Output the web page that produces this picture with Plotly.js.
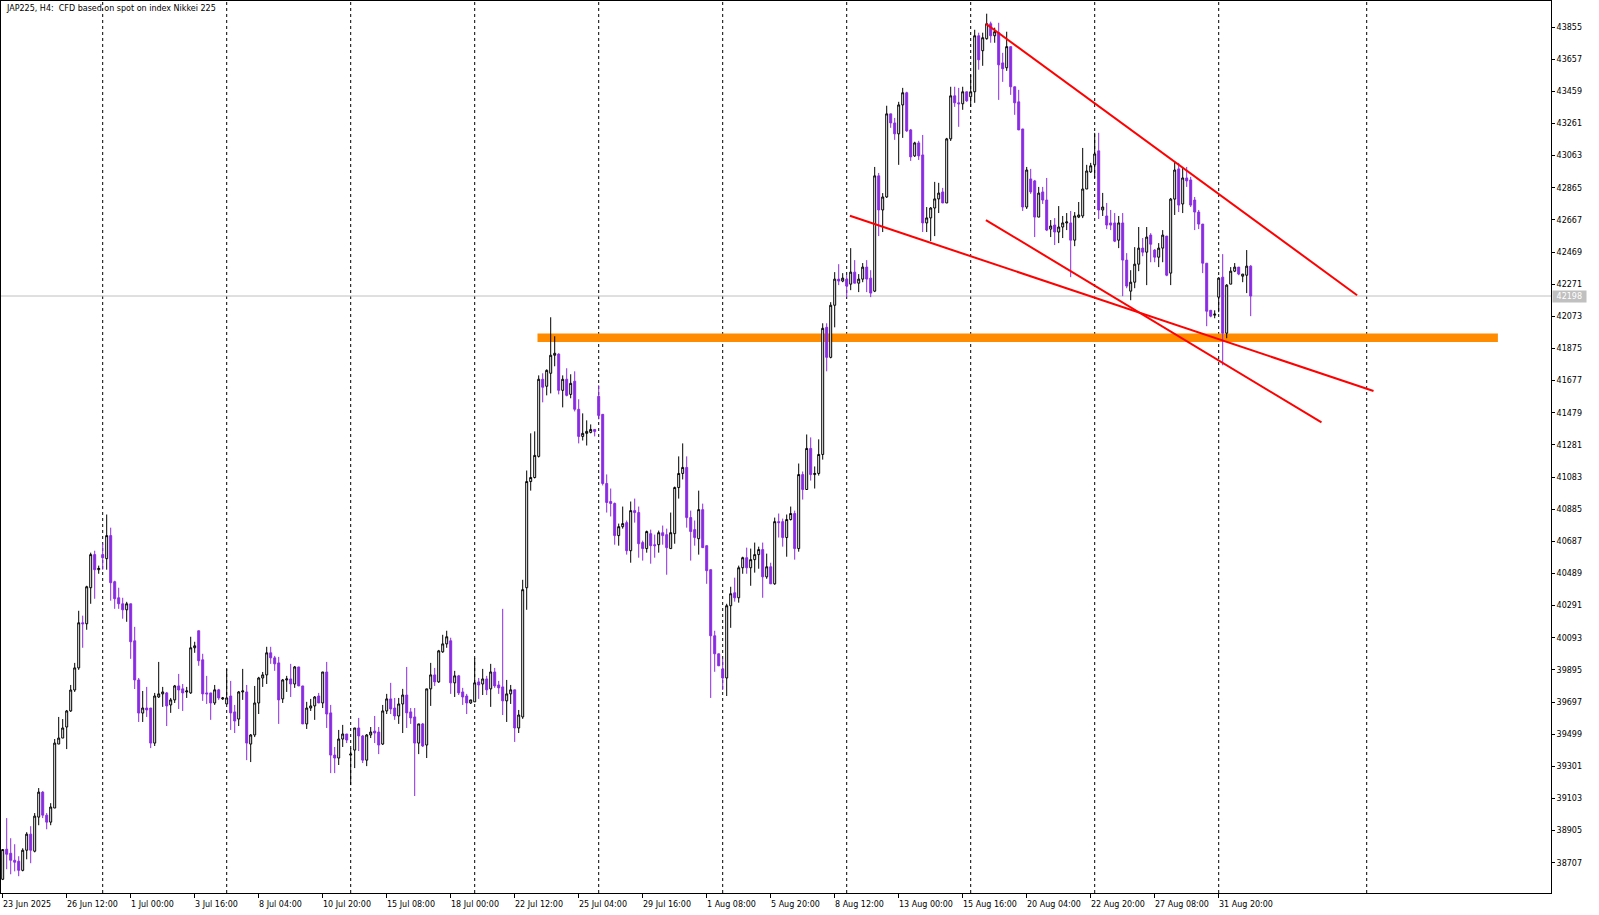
<!DOCTYPE html>
<html><head><meta charset="utf-8">
<script src="https://cdn.plot.ly/plotly-3.0.1.min.js"></script>
<style>html,body{margin:0;padding:0;background:#fff;overflow:hidden}#chart{width:1599px;height:915px}</style>
</head><body><div id="chart"></div>
<script>
// ---- DATA: JAP225 H4 candles ----
const openP = [
38605,38790,38765,38722,38716,38660,38784,38883,38778,38988,
39142,39000,38957,39044,39438,39475,39543,39642,39771,39907,
40185,40179,40401,40605,40512,40605,40580,40722,40438,40339,
40302,40265,40302,40074,39833,39629,39660,39660,39444,39728,
39747,39753,39679,39710,39796,39778,39759,39753,40031,40136,
39957,39753,39753,39691,39772,39716,39685,39734,39636,39592,
39759,39759,39438,39494,39691,39845,39864,40000,39969,39938,
39716,39833,39839,39808,39913,39796,39562,39660,39673,39734,
39691,39882,39630,39370,39352,39469,39500,39370,39401,39537,
39488,39339,39494,39518,39512,39438,39642,39716,39660,39611,
39685,39740,39636,39605,39444,39562,39432,39778,39864,39821,
40006,40055,40074,39815,39858,39759,39734,39691,39698,39821,
39808,39839,39778,39882,39802,39790,39704,39747,39772,39537,
39605,40401,41055,41080,41210,41685,41642,41722,41833,41840,
41617,41685,41592,41673,41500,41333,41352,41358,41376,41580,
41469,41043,40932,40920,40722,40777,40802,40629,40876,40864,
40679,40642,40734,40666,40666,40740,40728,40642,40734,41018,
41105,41142,40833,40759,40703,40882,40660,40512,40105,39994,
39901,39845,40290,40370,40339,40524,40586,40524,40574,40605,
40636,40468,40530,40425,40808,40808,40710,40821,40858,40642,
41098,41006,41259,41098,41105,41222,42005,41820,42141,42302,
42290,42302,42271,42345,42277,42302,42376,42308,42228,42938,
42728,42808,43320,43264,43197,43375,43450,43221,43061,43141,
43067,42648,42679,42740,42796,42839,42771,43166,43431,43388,
43382,43456,43425,43456,43801,43709,43783,43875,43801,43820,
43634,43604,43734,43487,43394,43227,42746,42919,42907,42684,
42839,42789,42610,42635,42592,42623,42648,42648,42542,42684,
42691,42857,42962,43006,43092,42728,42691,42648,42648,42542,
42648,42419,42228,42283,42394,42493,42468,42573,42481,42437,
42493,42567,42339,42795,42981,42765,42925,42913,42789,42715,
42641,42400,42110,42080,42191,42314,41969,42271,42351,42376,
42320,42326,42382];
const highP = [
38790,38982,38858,38821,38747,38796,38895,38932,39013,39167,
39148,39013,39074,39469,39605,39592,39648,39802,39938,40259,
40229,40413,40617,40629,40537,40673,40852,40771,40444,40401,
40339,40314,40302,40160,39845,39765,39790,39660,39753,39944,
39790,39759,39722,39802,39870,39808,39790,40099,40068,40136,
39994,39858,39753,39802,39778,39728,39901,39827,39679,39765,
39901,39802,39500,39796,39852,39882,40037,40037,39981,39975,
39839,39858,39932,39919,39913,39796,39698,39716,39734,39753,
39882,39944,39679,39420,39525,39556,39500,39413,39537,39599,
39494,39500,39543,39611,39543,39679,39747,39815,39722,39722,
39778,39913,39660,39660,39562,39568,39778,39938,39907,40018,
40111,40136,40093,39889,39864,39784,39747,39710,39969,39845,
39901,39858,39932,39907,39827,40271,39833,39802,39772,39648,
40450,41123,41352,41364,41709,41722,41746,42067,41950,41845,
41709,41753,41716,41734,41562,41475,41432,41407,41376,41648,
41469,41099,41012,40926,40796,40901,40815,40932,40950,40901,
40691,40753,40759,40728,40753,40784,40765,40864,41024,41210,
41290,41210,40876,40815,40999,40919,40660,40512,40136,39994,
39963,40302,40407,40463,40537,40592,40648,40642,40679,40654,
40679,40611,40555,40833,40858,40827,40852,40901,40876,41166,
41117,41345,41327,41148,41315,42030,42030,42160,42345,42394,
42339,42327,42493,42419,42333,42401,42419,42357,42993,42956,
42832,43370,43320,43295,43394,43480,43456,43227,43148,43154,
43190,42746,42746,42901,42895,42864,43172,43487,43487,43480,
43487,43456,43561,43838,43820,43820,43937,43888,43851,43881,
43696,43826,43734,43487,43468,43227,42993,42981,42913,42870,
42870,42925,42666,42678,42752,42691,42709,42722,42715,42777,
43110,43006,43018,43203,43203,42833,42771,42728,42709,42691,
42709,42462,42357,42499,42623,42555,42623,42585,42487,42524,
42604,42567,42802,43024,43018,42987,42993,42932,42808,42728,
42641,42400,42110,42110,42314,42456,42271,42376,42401,42376,
42333,42481,42388];
const lowP = [
38600,38667,38636,38654,38624,38654,38728,38704,38771,38938,
38982,38913,38938,39044,39438,39475,39407,39636,39759,39895,
40031,40142,40302,40333,40487,40512,40512,40321,40271,40271,
40210,40191,39963,39777,39574,39574,39605,39413,39426,39722,
39667,39549,39630,39691,39654,39642,39722,39747,40000,39920,
39704,39685,39587,39679,39710,39710,39685,39525,39506,39549,
39710,39339,39327,39481,39623,39790,39808,39932,39889,39562,
39691,39759,39728,39784,39796,39562,39531,39642,39587,39691,
39660,39537,39259,39259,39309,39420,39444,39185,39290,39395,
39321,39302,39475,39444,39376,39432,39623,39623,39587,39562,
39506,39537,39562,39118,39376,39420,39352,39673,39796,39815,
40000,40031,39747,39728,39740,39679,39623,39685,39698,39716,
39740,39740,39667,39784,39747,39617,39574,39685,39451,39506,
39593,40265,40999,41074,41203,41543,41586,41598,41765,41592,
41512,41580,41568,41487,41290,41308,41277,41352,41333,41438,
41031,40864,40840,40666,40660,40765,40605,40555,40802,40586,
40568,40617,40549,40586,40617,40666,40481,40642,40672,40950,
41068,40771,40568,40660,40605,40648,40425,39722,39883,39920,
39771,39734,40154,40315,40309,40487,40487,40413,40494,40518,
40339,40456,40425,40419,40710,40654,40592,40815,40574,40623,
40944,41006,41061,41012,41092,41190,41734,41814,42005,42265,
42283,42191,42234,42277,42222,42283,42222,42191,42222,42567,
42592,42802,43234,43160,43006,43172,43209,43030,43055,43036,
42592,42592,42536,42567,42709,42771,42771,43153,43363,43240,
43345,43394,43363,43388,43592,43616,43777,43758,43758,43406,
43517,43585,43437,43314,43221,42722,42734,42827,42561,42684,
42765,42598,42561,42512,42524,42555,42604,42314,42505,42678,
42678,42857,42956,42925,42672,42691,42610,42604,42530,42493,
42197,42246,42172,42246,42351,42443,42265,42406,42406,42376,
42406,42320,42265,42697,42715,42709,42870,42746,42604,42610,
42339,42012,42067,42061,42098,41771,41938,42271,42345,42326,
42283,42216,42074];
const closeP = [
38788,38759,38722,38710,38660,38784,38883,38784,38994,39142,
39000,38957,39050,39444,39475,39537,39642,39771,39907,40185,
40179,40407,40605,40512,40520,40586,40722,40432,40333,40302,
40265,40302,40068,39833,39629,39660,39648,39444,39734,39747,
39759,39673,39710,39796,39771,39753,39765,40031,40043,39951,
39747,39747,39691,39772,39722,39722,39722,39630,39580,39759,
39765,39444,39494,39691,39845,39864,40000,39969,39932,39710,
39833,39839,39808,39913,39796,39562,39660,39673,39728,39691,
39882,39623,39370,39352,39469,39500,39463,39376,39537,39488,
39339,39494,39512,39506,39432,39642,39716,39654,39611,39685,
39740,39630,39599,39444,39562,39426,39778,39864,39821,40012,
40055,40099,39815,39858,39753,39728,39691,39710,39815,39802,
39839,39772,39882,39796,39784,39704,39747,39772,39537,39617,
40389,41055,41080,41216,41685,41636,41740,41833,41845,41617,
41685,41586,41660,41500,41333,41352,41364,41376,41364,41462,
41043,40926,40920,40722,40777,40796,40629,40876,40864,40672,
40642,40747,40660,40660,40740,40722,40648,40740,41018,41105,
41142,40833,40747,40710,40882,40648,40506,40105,39994,39920,
39845,40290,40364,40339,40524,40586,40524,40574,40605,40636,
40468,40530,40425,40808,40802,40710,40821,40858,40642,41098,
41006,41259,41098,41105,41222,41999,41820,42141,42302,42290,
42308,42259,42345,42277,42302,42376,42302,42216,42938,42728,
42808,43320,43264,43197,43375,43450,43215,43055,43141,43061,
42648,42679,42740,42796,42832,42771,43166,43431,43388,43382,
43456,43400,43456,43801,43653,43789,43875,43801,43826,43622,
43598,43734,43487,43388,43221,42746,42974,42839,42684,42832,
42789,42604,42629,42592,42623,42648,42654,42542,42691,42697,
42857,42968,43000,43073,42728,42746,42635,42635,42536,42648,
42419,42259,42283,42394,42493,42468,42561,42517,42437,42493,
42573,42326,42795,42974,42758,42925,42907,42758,42715,42641,
42400,42104,42074,42086,42308,41969,42265,42351,42376,42333,
42333,42382,42198];

const priceTicks = [43855,43657,43459,43261,43063,42865,42667,42469,42271,42073,41875,41677,41479,41281,41083,40885,40687,40489,40291,40093,39895,39697,39499,39301,39103,38905,38707];
const timeLabels = ['23 Jun 2025','26 Jun 12:00','1 Jul 00:00','3 Jul 16:00','8 Jul 04:00','10 Jul 20:00','15 Jul 08:00','18 Jul 00:00','22 Jul 12:00','25 Jul 04:00','29 Jul 16:00','1 Aug 08:00','5 Aug 20:00','8 Aug 12:00','13 Aug 00:00','15 Aug 16:00','20 Aug 04:00','22 Aug 20:00','27 Aug 08:00','31 Aug 20:00'];
const timeLabelBar = [0,16,32,48,64,80,96,112,128,144,160,176,192,208,224,240,256,272,288,304];
const weekStartBar = [25,56,87,118,149,180,211,242,273,304,341];
const bidPrice = 42198;
// support zone (orange)
const zoneBars = [133.7, 373.8];
const zonePrices = [41914, 41967];
// red trend lines: start bar/price, end bar/price
const trendStartBar = [245.8, 211.8, 245.8];
const trendStartPrice = [43875, 42692, 42666];
const trendEndBar = [338.6, 342.7, 329.7];
const trendEndPrice = [42203, 41613, 41419];

// ---- CHART ----
const barIdx = openP.map((_, i) => i);
const FONT = 'DejaVu Sans, Tahoma, sans-serif';

const trace = {
  type: 'candlestick', x: barIdx, open: openP, high: highP, low: lowP, close: closeP,
  increasing: {line: {color: '#000000', width: 1}, fillcolor: '#FFFFFF'},
  decreasing: {line: {color: '#8A2BE2', width: 1}, fillcolor: '#8A2BE2'},
  whiskerwidth: 0, hoverinfo: 'skip', showlegend: false
};

const shapes = [];
weekStartBar.forEach(b => shapes.push({type:'line', xref:'x', yref:'paper', x0:b, x1:b, y0:0, y1:1,
  line:{color:'#000000', width:1, dash:'3px,3px'}, layer:'below'}));
shapes.push({type:'line', xref:'paper', yref:'y', x0:0, x1:1, y0:bidPrice, y1:bidPrice,
  line:{color:'#C0C0C0', width:1}, layer:'below'});
shapes.push({type:'rect', xref:'x', yref:'y', x0:zoneBars[0], x1:zoneBars[1], y0:zonePrices[0], y1:zonePrices[1],
  fillcolor:'#FF8C00', line:{width:0}, layer:'below'});
trendStartBar.forEach((b, i) => shapes.push({type:'line', xref:'x', yref:'y', x0:b, y0:trendStartPrice[i], x1:trendEndBar[i], y1:trendEndPrice[i],
  line:{color:'#FF0000', width:2}, layer:'above'}));

const annotations = [];
timeLabels.forEach((t, i) => annotations.push({xref:'x', yref:'paper', x:timeLabelBar[i], y:0, xanchor:'left', yanchor:'top',
  yshift:-5, xshift:-2, text:t, showarrow:false, font:{family:FONT, size:8, color:'#000000'}}));
annotations.push({xref:'paper', yref:'paper', x:0, y:1, xanchor:'left', yanchor:'top', xshift:3, yshift:-1,
  text:'JAP225, H4:\u00a0 CFD based on spot on index Nikkei 225', showarrow:false, font:{family:FONT, size:8, color:'#000000'}});
annotations.push({xref:'paper', yref:'y', x:1, y:bidPrice, xanchor:'left', yanchor:'middle', xshift:1,
  text:'\u00a0' + String(bidPrice) + '\u00a0', showarrow:false, bgcolor:'#C0C0C0', borderpad:1, font:{family:FONT, size:8, color:'#FFFFFF'}});

const layout = {
  width:1599, height:915,
  margin:{l:1, r:48, t:1, b:22},
  paper_bgcolor:'#FFFFFF', plot_bgcolor:'#FFFFFF',
  showlegend:false, hovermode:false, dragmode:false,
  xaxis:{type:'linear', range:[-0.425, 387.075], showgrid:false, zeroline:false,
    showline:true, mirror:true, linecolor:'#000000', linewidth:1,
    ticks:'outside', ticklen:4, tickcolor:'#000000', tickvals:timeLabelBar, showticklabels:false,
    rangeslider:{visible:false}, fixedrange:true},
  yaxis:{side:'right', range:[38520.5, 44015.2], showgrid:false, zeroline:false,
    showline:true, mirror:true, linecolor:'#000000', linewidth:1,
    ticks:'outside', ticklen:3, tickcolor:'#000000', tickvals:priceTicks, ticktext:priceTicks.map(String),
    tickfont:{family:FONT, size:8, color:'#000000'}, fixedrange:true},
  shapes:shapes, annotations:annotations
};

Plotly.newPlot('chart', [trace], layout, {staticPlot:true, displayModeBar:false});
</script>
</body></html>
